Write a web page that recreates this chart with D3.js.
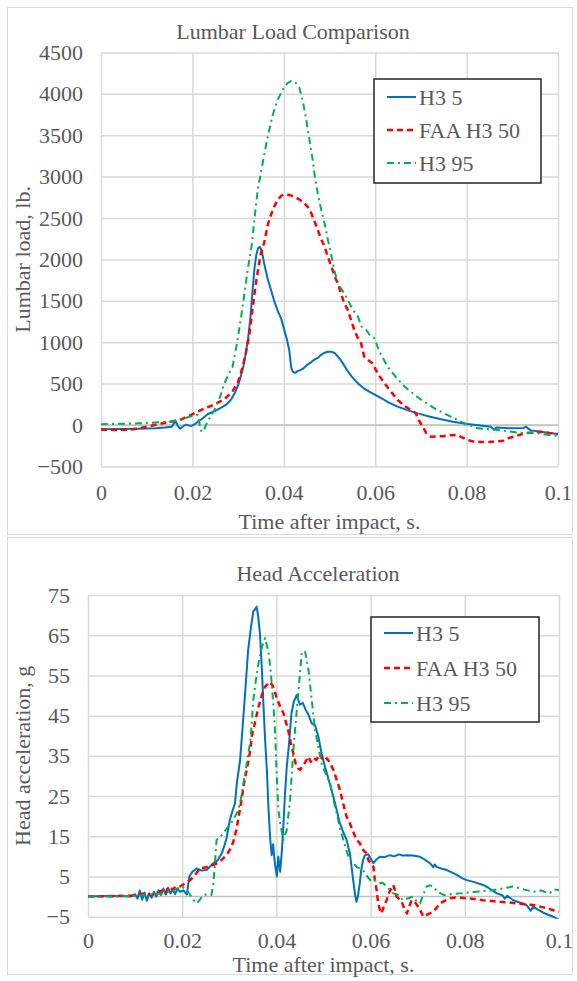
<!DOCTYPE html>
<html>
<head>
<meta charset="utf-8">
<script src="https://cdn.jsdelivr.net/npm/d3@7"></script>
<style>
  body { margin: 0; background: #fff; }
</style>
</head>
<body>
<svg id="chart" width="577" height="981"></svg>
<script>
// ---- data: [time (s), value] ----
const seriesNames = ["H3 5", "FAA H3 50", "H3 95"];
const timeTicks = [0, 0.02, 0.04, 0.06, 0.08, 0.1];
const lumbarTicks = [-500, 0, 500, 1000, 1500, 2000, 2500, 3000, 3500, 4000, 4500];
const headTicks = [-5, 5, 15, 25, 35, 45, 55, 65, 75];

const lumbarH3_5 = [
  [0, -50], [0.004, -48], [0.008, -45], [0.012, -38], [0.014, -30], [0.0155, -20], [0.0163, 50],
  [0.0168, -10], [0.0173, -45], [0.018, -15], [0.0186, 5], [0.0192, -5], [0.0198, -10], [0.0205, 10],
  [0.0212, 40], [0.022, 70], [0.0233, 130], [0.025, 170], [0.0263, 210], [0.0275, 250], [0.0285, 310],
  [0.0293, 390], [0.03, 480], [0.0306, 590], [0.0312, 720], [0.0317, 870], [0.0322, 1050], [0.0327, 1300],
  [0.0332, 1650], [0.0336, 1900], [0.034, 2060], [0.0344, 2140], [0.0348, 2150], [0.0352, 2100],
  [0.0357, 1950], [0.0365, 1760], [0.0372, 1630], [0.038, 1480], [0.0388, 1360], [0.0394, 1290],
  [0.04, 1170], [0.0407, 1030], [0.0412, 900], [0.0416, 700], [0.042, 640], [0.0425, 630], [0.043, 650],
  [0.0435, 660], [0.0442, 680], [0.0452, 730], [0.046, 760], [0.0467, 790], [0.0474, 810], [0.048, 840],
  [0.0488, 870], [0.0496, 885], [0.0504, 885], [0.0511, 870], [0.0518, 830], [0.0525, 780], [0.0532, 720],
  [0.054, 650], [0.0548, 590], [0.0555, 545], [0.0565, 490], [0.0576, 440], [0.0588, 400], [0.06, 365],
  [0.0615, 320], [0.063, 270], [0.0649, 222], [0.067, 180], [0.0693, 140], [0.072, 100], [0.0744, 69],
  [0.077, 40], [0.0802, 12], [0.083, -5], [0.0853, -20], [0.086, -55], [0.0865, -30], [0.0897, -40],
  [0.0925, -35], [0.093, -20], [0.0935, -45], [0.0941, -65], [0.097, -88], [0.1, -110]
];
const lumbarFAA50 = [
  [0, -55], [0.003, -60], [0.006, -56], [0.008, -45], [0.0102, -20], [0.0125, 10], [0.0153, 40],
  [0.0175, 65], [0.0204, 140], [0.0226, 200], [0.0245, 240], [0.027, 310], [0.0288, 410], [0.03, 520],
  [0.031, 700], [0.0318, 900], [0.0325, 1110], [0.0332, 1420], [0.0339, 1714], [0.0345, 1920],
  [0.035, 2077], [0.0357, 2200], [0.0365, 2420], [0.0372, 2540], [0.038, 2650], [0.0388, 2730],
  [0.0395, 2770], [0.0402, 2785], [0.041, 2780], [0.0423, 2760], [0.0435, 2720], [0.0445, 2680],
  [0.0453, 2630], [0.046, 2560], [0.0467, 2460], [0.0474, 2360], [0.0482, 2240], [0.0489, 2158],
  [0.0496, 2037], [0.0504, 1920], [0.0511, 1795], [0.0518, 1714], [0.0525, 1590], [0.0532, 1472],
  [0.054, 1391], [0.0547, 1270], [0.0554, 1150], [0.0562, 1050], [0.0569, 988], [0.0576, 826],
  [0.0584, 786], [0.0594, 746], [0.0605, 625], [0.062, 505], [0.0635, 400], [0.0649, 303], [0.0664, 230],
  [0.0678, 182], [0.0689, 141], [0.0695, 60], [0.0704, -20], [0.0712, -100], [0.0722, -141],
  [0.0735, -140], [0.0751, -133], [0.0765, -125], [0.078, -121], [0.079, -150], [0.0802, -182],
  [0.0815, -200], [0.083, -205], [0.0845, -205], [0.086, -200], [0.088, -190], [0.089, -161],
  [0.091, -130], [0.0926, -100], [0.0945, -90], [0.0963, -81], [0.098, -95], [0.1, -110]
];
const lumbarH3_95 = [
  [0, 10], [0.004, 15], [0.008, 20], [0.012, 30], [0.015, 40], [0.017, 60], [0.019, 93], [0.0205, 115],
  [0.0212, 121], [0.0218, -60], [0.0222, -85], [0.0226, -50], [0.0233, 40], [0.0248, 182], [0.026, 330],
  [0.027, 505], [0.028, 620], [0.0288, 706], [0.0298, 1000], [0.031, 1432], [0.0321, 1876], [0.033, 2178],
  [0.0336, 2500], [0.0343, 2844], [0.0355, 3200], [0.0365, 3489], [0.0376, 3750], [0.0387, 3933],
  [0.0398, 4050], [0.0408, 4130], [0.0416, 4154], [0.0425, 4140], [0.0434, 4074], [0.0442, 3900],
  [0.0449, 3690], [0.0456, 3450], [0.0463, 3207], [0.0468, 3000], [0.0474, 2803], [0.0481, 2620],
  [0.0489, 2440], [0.0496, 2250], [0.0503, 2077], [0.051, 1880], [0.0518, 1714], [0.0525, 1650],
  [0.0532, 1593], [0.054, 1512], [0.055, 1400], [0.0562, 1311], [0.057, 1190], [0.058, 1150],
  [0.0589, 1080], [0.0598, 1049], [0.061, 880], [0.0627, 706], [0.0645, 580], [0.0664, 464],
  [0.0685, 370], [0.0707, 282], [0.073, 200], [0.0751, 141], [0.0773, 80], [0.0795, 20], [0.0824, -40],
  [0.0868, -60], [0.0912, -93], [0.0955, -100], [0.098, -120], [0.1, -133]
];

const headH3_5 = [
  [0, 0], [0.005, 0.2], [0.009, 0], [0.01, 0.6], [0.0105, -0.5], [0.011, 1.5], [0.0115, -0.8], [0.012, 1],
  [0.0125, -1], [0.013, 0.8], [0.0135, -0.3], [0.014, 1.2], [0.0145, 0], [0.015, 1.6], [0.0155, 0.4],
  [0.016, 2], [0.0165, 0.5], [0.017, 2.2], [0.0175, 0.8], [0.018, 1.8], [0.0185, 0.6], [0.019, 2],
  [0.0195, 1.2], [0.0203, 1.5], [0.021, 0.5], [0.0215, 5], [0.0222, 6.2], [0.0231, 7], [0.024, 6.5],
  [0.0252, 6.6], [0.026, 7.6], [0.0266, 8.3], [0.0275, 9], [0.0284, 10.8], [0.029, 12.8], [0.0294, 14.5],
  [0.0298, 17], [0.0301, 19], [0.0306, 21], [0.0312, 23.2], [0.0316, 28.2], [0.0323, 34], [0.0332, 48],
  [0.034, 61.3], [0.0346, 67], [0.0351, 70.9], [0.0355, 71.5], [0.0358, 72.1], [0.0361, 70], [0.0365, 65.5],
  [0.0369, 57], [0.0372, 48.9], [0.0376, 39], [0.038, 31], [0.0383, 22.4], [0.0387, 14], [0.039, 10.3],
  [0.0393, 13], [0.0397, 8], [0.0401, 5], [0.0404, 10], [0.0408, 6.2], [0.0412, 12], [0.0415, 18.2],
  [0.0418, 25], [0.0422, 32.3], [0.0426, 37], [0.0432, 45.6], [0.0437, 48.5], [0.0443, 50.1], [0.045, 47.7],
  [0.0456, 48.2], [0.0462, 46.5], [0.0468, 45.2], [0.0475, 43.1], [0.0482, 42.6], [0.0489, 39.8],
  [0.0496, 35.6], [0.0503, 32.3], [0.0507, 30.7], [0.0514, 27.8], [0.0521, 24.9], [0.0528, 21.5],
  [0.0535, 18.2], [0.0542, 16], [0.0549, 14.1], [0.0556, 10.8], [0.056, 7], [0.0563, 4.1], [0.0567, 0.5],
  [0.057, -1.3], [0.0573, 0], [0.0577, 3.3], [0.058, 6.5], [0.0584, 9.1], [0.0588, 10.3], [0.0595, 10.5],
  [0.06, 9.5], [0.0606, 8.3], [0.0613, 9.3], [0.062, 9.9], [0.063, 9.8], [0.0641, 10.3], [0.065, 10],
  [0.066, 10.5], [0.0668, 10.2], [0.0677, 10.3], [0.069, 10.2], [0.0705, 9.9], [0.0715, 9.2], [0.0726, 8.3],
  [0.0733, 7.3], [0.0736, 8], [0.074, 7.4], [0.075, 7], [0.0762, 6.6], [0.0772, 6], [0.0783, 5.4],
  [0.0794, 4.6], [0.0804, 4.1], [0.082, 3.6], [0.0839, 2.9], [0.085, 2.2], [0.0868, 0.8], [0.088, 0.3],
  [0.0885, -0.5], [0.089, 0.2], [0.0903, -0.9], [0.0915, -1.4], [0.0931, -2.1], [0.094, -3.5],
  [0.0945, -2.5], [0.0956, -3.3], [0.097, -4.2], [0.0988, -5], [0.1, -5.8]
];
const headFAA50 = [
  [0, 0], [0.006, 0.1], [0.01, 0.3], [0.012, 0.8], [0.0135, 0.3], [0.015, 1.2], [0.0157, 1.5],
  [0.0165, 0.8], [0.017, 2.4], [0.018, 1.8], [0.0187, 2.5], [0.0195, 2.5], [0.0205, 3.2], [0.0217, 4.1],
  [0.0228, 5.5], [0.0238, 7], [0.0252, 7.3], [0.0266, 7.9], [0.0277, 8.4], [0.0287, 9.5], [0.0295, 10.5],
  [0.0301, 11.6], [0.0308, 13.5], [0.0315, 16.6], [0.032, 20], [0.0326, 24], [0.0331, 28], [0.0337, 31.5],
  [0.0344, 36], [0.0348, 40], [0.0355, 43.5], [0.0362, 47.2], [0.0369, 50], [0.0376, 52.2], [0.0386, 53.4],
  [0.0392, 52.5], [0.04, 49.7], [0.0407, 47.5], [0.0415, 45.6], [0.0425, 41.4], [0.043, 38.5],
  [0.0436, 35.6], [0.0441, 33], [0.0446, 31.9], [0.045, 31.5], [0.0455, 32.3], [0.046, 33.2],
  [0.0468, 34.8], [0.0473, 33.5], [0.0478, 34.5], [0.0485, 34], [0.0492, 35.5], [0.05, 33.8],
  [0.0507, 34.4], [0.0514, 33.2], [0.0521, 31.5], [0.0528, 29], [0.0535, 26.5], [0.0542, 23],
  [0.0549, 19.9], [0.0556, 18.2], [0.057, 14.1], [0.0577, 13.3], [0.0584, 11.6], [0.0591, 10.8],
  [0.0595, 9.1], [0.06, 8.3], [0.0606, 7.4], [0.0609, 4.1], [0.0613, 1.5], [0.0616, -1.7], [0.0619, -3],
  [0.0623, -4.2], [0.0628, -2.5], [0.0634, -0.9], [0.064, 1.2], [0.0648, 2.9], [0.0652, 1.5], [0.0655, 0],
  [0.066, -0.5], [0.0665, -1], [0.067, -2.5], [0.0677, -4.2], [0.0682, -2.5], [0.0687, -0.9],
  [0.0695, -1.5], [0.0705, -3.3], [0.0712, -5], [0.072, -4.5], [0.0733, -3.8], [0.074, -2.8],
  [0.0747, -1.7], [0.0758, -1], [0.0769, -0.4], [0.078, -0.2], [0.0792, -0.3], [0.0804, -0.4],
  [0.082, -0.6], [0.0839, -0.9], [0.0857, -1.1], [0.0875, -1.3], [0.089, -1.4], [0.091, -1.7],
  [0.0928, -1.9], [0.0945, -2.1], [0.096, -2.5], [0.0974, -2.9], [0.0988, -3.4], [0.1, -3.8]
];
const headH3_95 = [
  [0, 0], [0.006, 0], [0.01, 0.2], [0.013, 0.5], [0.016, 0.8], [0.018, 1.5], [0.02, 2.5], [0.021, 1.5],
  [0.0217, 0.4], [0.0224, -0.8], [0.0231, -1.7], [0.0238, -0.7], [0.0245, 0.4], [0.0255, 0.6],
  [0.0262, 0.4], [0.0266, 3], [0.0269, 7.4], [0.0273, 14.1], [0.028, 14.8], [0.0287, 15.7], [0.0295, 17],
  [0.0301, 17.8], [0.0308, 19], [0.0319, 21.5], [0.0325, 24.5], [0.033, 28.2], [0.0335, 31.5],
  [0.034, 35.6], [0.0344, 38], [0.0347, 42], [0.0351, 48.9], [0.0356, 53.5], [0.0362, 58], [0.0369, 62],
  [0.0376, 64.3], [0.0383, 60.9], [0.0387, 57], [0.039, 53.1], [0.0394, 47], [0.0397, 41.4], [0.04, 32.3],
  [0.0404, 22], [0.0408, 18.2], [0.0415, 14.1], [0.0422, 16.6], [0.0429, 24], [0.0436, 36.5], [0.044, 42],
  [0.0447, 51.4], [0.0454, 60.9], [0.0461, 60.9], [0.0468, 56.4], [0.0475, 48.9], [0.0482, 41.4],
  [0.0489, 37.3], [0.0496, 33], [0.0503, 31], [0.0514, 28.2], [0.0521, 24], [0.0528, 20.7], [0.0535, 17],
  [0.0542, 14.1], [0.055, 11], [0.0556, 9.1], [0.0563, 8.5], [0.057, 7.4], [0.0584, 6.6], [0.059, 5.5],
  [0.0599, 4.1], [0.0606, 4.5], [0.0615, 3.5], [0.0627, 3.3], [0.0635, 2.4], [0.0648, 0.8], [0.0657, 0.5],
  [0.0669, -0.9], [0.068, -0.4], [0.069, 0], [0.0697, -1], [0.0705, -1.7], [0.0712, 0.5], [0.0719, 2.5],
  [0.0726, 2.8], [0.0733, 2.5], [0.0742, 1.2], [0.0755, 0.4], [0.077, 0.6], [0.079, 0.8], [0.0808, 1],
  [0.0825, 1.2], [0.084, 1.4], [0.086, 1.6], [0.088, 2], [0.0903, 2.5], [0.0925, 1.8], [0.0945, 1.2],
  [0.0962, 1.5], [0.098, 0.8], [0.099, 1.8], [0.1, 1.6]
];

// ---- styles for the three series ----
const seriesStyle = [
  { color: "#0070c0", width: 2, dash: null },
  { color: "#ff0000", width: 2.5, dash: "6,4" },
  { color: "#00b050", width: 2, dash: "7,4,2,4" }
];
const FONT = "'Liberation Serif', 'Times New Roman', serif";
const TEXT_COLOR = "#595959";
const fontSize = 22;

const svg = d3.select("#chart");
svg.append("rect").attr("width", 577).attr("height", 981).attr("fill", "#fff");

// chart frames
svg.append("rect").attr("x", 7.5).attr("y", 7.5).attr("width", 565).attr("height", 527)
  .attr("fill", "none").attr("stroke", "#d9d9d9").attr("stroke-width", 1);
svg.append("rect").attr("x", 7.5).attr("y", 537.5).attr("width", 565).attr("height", 437)
  .attr("fill", "none").attr("stroke", "#d9d9d9").attr("stroke-width", 1);

function label(sel) {
  return sel.attr("font-family", FONT).attr("font-size", fontSize).attr("fill", TEXT_COLOR);
}

function drawChart(cfg) {
  const x = d3.scaleLinear().domain([0, 0.1]).range([cfg.left, cfg.right]);
  const y = d3.scaleLinear().domain(cfg.yDomain).range([cfg.bottom, cfg.top]);
  const g = svg.append("g");

  // vertical gridlines + x tick labels
  const xAxis = g.append("g")
    .attr("transform", `translate(0,${cfg.bottom})`)
    .call(d3.axisBottom(x).tickValues(timeTicks).tickFormat(d => String(+d.toFixed(2)))
      .tickSize(-(cfg.bottom - cfg.top)).tickPadding(cfg.xPad));
  xAxis.attr("font-family", FONT);
  xAxis.select(".domain").remove();
  xAxis.selectAll("line").attr("stroke", "#d9d9d9").attr("stroke-width", 1.5);
  label(xAxis.selectAll("text"));

  // horizontal gridlines + y tick labels
  const yAxis = g.append("g")
    .attr("transform", `translate(${cfg.left},0)`)
    .call(d3.axisLeft(y).tickValues(cfg.yTicks).tickFormat(d3.format("d"))
      .tickSize(-(cfg.right - cfg.left)).tickPadding(18));
  yAxis.attr("font-family", FONT);
  yAxis.select(".domain").remove();
  yAxis.selectAll("line").attr("stroke", "#d9d9d9").attr("stroke-width", 1.5);
  label(yAxis.selectAll("text"));

  // zero line
  g.append("line")
    .attr("x1", cfg.left).attr("x2", cfg.right)
    .attr("y1", y(0)).attr("y2", y(0))
    .attr("stroke", "#bfbfbf").attr("stroke-width", 1.5);

  // series lines
  const clipId = "clip" + cfg.id;
  svg.append("clipPath").attr("id", clipId).append("rect")
    .attr("x", cfg.left).attr("y", cfg.top - 2)
    .attr("width", cfg.right - cfg.left + 2).attr("height", cfg.bottom - cfg.top + 4);
  const line = d3.line().x(d => x(d[0])).y(d => y(d[1]));
  const lines = g.append("g").attr("clip-path", `url(#${clipId})`);
  cfg.series.forEach((data, i) => {
    const s = seriesStyle[i];
    lines.append("path")
      .attr("d", line(data))
      .attr("fill", "none")
      .attr("stroke", s.color)
      .attr("stroke-width", s.width)
      .attr("stroke-dasharray", s.dash)
      .attr("stroke-linejoin", "round");
  });

  // titles
  label(g.append("text")).attr("x", cfg.titleX).attr("y", cfg.titleY).attr("dy", "0.35em")
    .attr("text-anchor", "middle").text(cfg.title);
  label(g.append("text")).attr("x", (cfg.left + cfg.right) / 2).attr("y", cfg.xTitleY).attr("dy", "0.35em")
    .attr("text-anchor", "middle").text("Time after impact, s.");
  label(g.append("text"))
    .attr("transform", `translate(22,${(cfg.top + cfg.bottom) / 2}) rotate(-90)`)
    .attr("dy", "0.35em").attr("text-anchor", "middle")
    .text(cfg.yTitle);

  // legend
  const lg = g.append("g").attr("transform", `translate(${cfg.legend.x},${cfg.legend.y})`);
  lg.append("rect").attr("width", cfg.legend.w).attr("height", cfg.legend.h)
    .attr("fill", "#fff").attr("stroke", "#262626").attr("stroke-width", 1.5);
  seriesNames.forEach((name, i) => {
    const s = seriesStyle[i];
    const cy = cfg.legend.first + i * cfg.legend.step;
    lg.append("line").attr("x1", 13).attr("x2", 42).attr("y1", cy).attr("y2", cy)
      .attr("stroke", s.color).attr("stroke-width", s.width).attr("stroke-dasharray", s.dash);
    label(lg.append("text")).attr("x", 45).attr("y", cy).attr("dy", "0.35em").text(name);
  });
}

drawChart({
  id: "top", left: 101, right: 558, top: 52.4, bottom: 466.4,
  yDomain: [-500, 4500], yTicks: lumbarTicks, xPad: 18,
  series: [lumbarH3_5, lumbarFAA50, lumbarH3_95],
  title: "Lumbar Load Comparison", titleX: 293, titleY: 31, xTitleY: 521,
  yTitle: "Lumbar load, lb.",
  legend: { x: 374, y: 79, w: 167, h: 104, first: 18, step: 33 }
});

drawChart({
  id: "bottom", left: 88, right: 559, top: 595, bottom: 916.7,
  yDomain: [-5, 75], yTicks: headTicks, xPad: 16,
  series: [headH3_5, headFAA50, headH3_95],
  title: "Head Acceleration", titleX: 318, titleY: 573, xTitleY: 964,
  yTitle: "Head acceleration, g",
  legend: { x: 371, y: 617, w: 168, h: 105, first: 16, step: 35 }
});
</script>
</body>
</html>
